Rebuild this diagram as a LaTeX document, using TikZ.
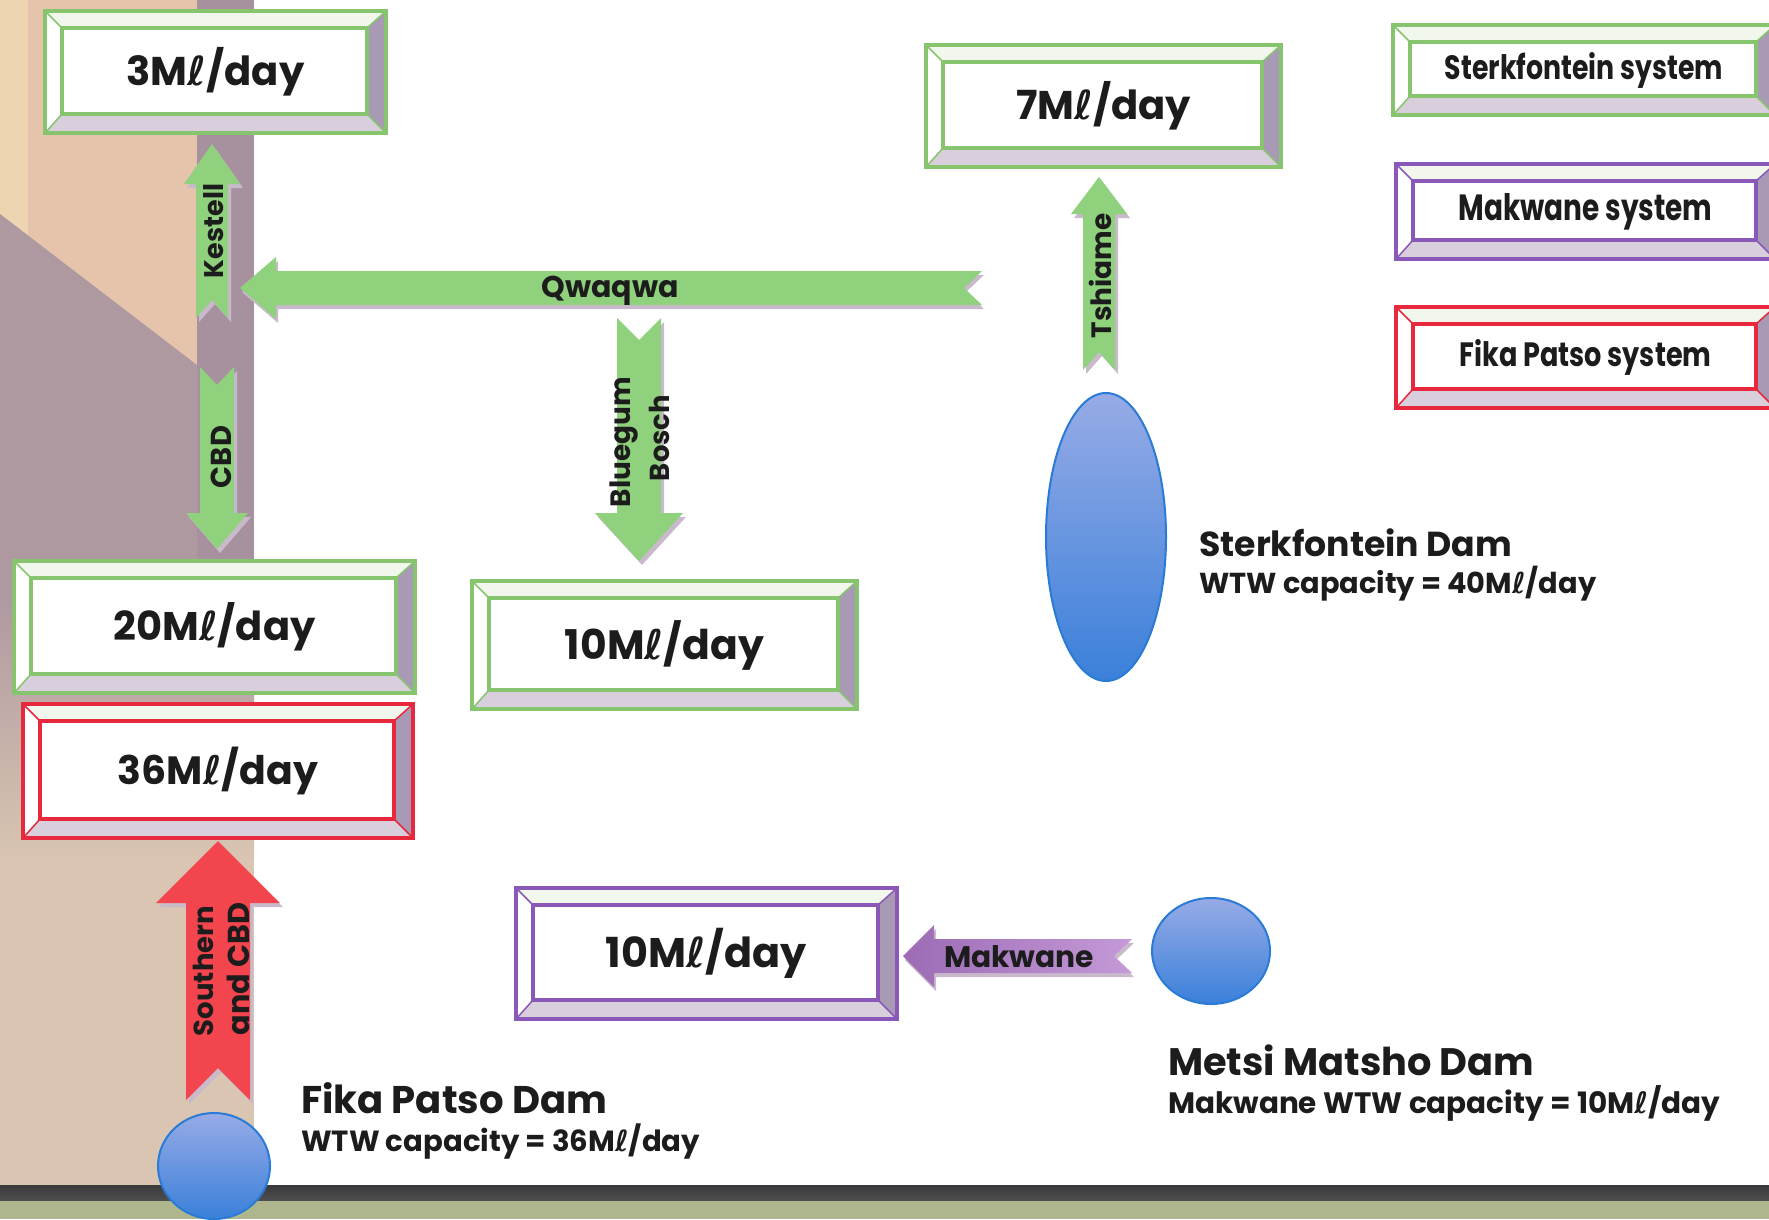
\documentclass[tikz,border=0pt]{standalone}
\usepackage{fontspec}
\setmainfont{Poppins}
\newfontfamily\djv{DejaVu Sans}
\usetikzlibrary{shapes.geometric}
\newcommand\litr{{\djv ℓ}}
\definecolor{gline}{HTML}{86C56E}
\definecolor{rline}{HTML}{E8283C}
\definecolor{pline}{HTML}{8A58B8}
\definecolor{garrow}{HTML}{8FD17C}
\definecolor{rarrow}{HTML}{F2454E}
\definecolor{parrow}{HTML}{9C6BB4}
\definecolor{parrowL}{HTML}{C49AD8}
\definecolor{bevR}{HTML}{A89AB4}
\definecolor{bevB}{HTML}{D8CEDC}
\definecolor{bevT}{HTML}{F2F7EE}
\definecolor{txt}{HTML}{1C1C1C}
\definecolor{peach}{HTML}{E6C4AC}
\definecolor{peachL}{HTML}{EDD5B2}
\definecolor{mauve}{HTML}{A8919E}
\definecolor{tanc}{HTML}{D9C5B1}
\definecolor{bandc}{HTML}{3A3A3C}
\definecolor{olive}{HTML}{AEB68E}
\definecolor{blueT}{HTML}{97ABE6}
\definecolor{blueB}{HTML}{3A80DA}
\definecolor{blueL}{HTML}{2A7BD6}
\definecolor{shad}{HTML}{C9BACB}
\tikzset{
  lbl/.style={text=txt, inner sep=0pt, font=\bfseries},
  dam/.style={ellipse, draw=blueL, line width=2pt, top color=blueT, bottom color=blueB},
}
% bevelled box: name, x1, y1, x2, y2, colour, text
\newcommand\bevbox[7]{%
  \pgfmathsetmacro\xc{#2+17}\pgfmathsetmacro\yc{#3+17}%
  \pgfmathsetmacro\xd{#4-19}\pgfmathsetmacro\yd{#5-19}%
  \fill[white] (#2,#3) rectangle (#4,#5);
  \fill[bevT] (#2,#3)--(#4,#3)--(\xd,\yc)--(\xc,\yc)--cycle;
  \fill[white] (#2,#3)--(\xc,\yc)--(\xc,\yd)--(#2,#5)--cycle;
  \fill[bevR] (#4,#3)--(#4,#5)--(\xd,\yd)--(\xd,\yc)--cycle;
  \fill[bevB] (#2,#5)--(#4,#5)--(\xd,\yd)--(\xc,\yd)--cycle;
  \draw[#6, line width=1.5pt] (#2,#3)--(\xc,\yc) (#4,#3)--(\xd,\yc) (#2,#5)--(\xc,\yd) (#4,#5)--(\xd,\yd);
  \draw[#6, line width=4pt] (#2,#3) rectangle (#4,#5);
  \draw[#6, line width=3.5pt] (\xc,\yc) rectangle (\xd,\yd);
  \node[lbl] (#1) at ({(#2+#4)/2},{(#3+#5)/2}) {#7};
}
% vertical block arrow: cx, tip, base, tail, notch, half head, half shaft, colour
\newcommand\varrow[8]{%
  \fill[shad] ({#1+3},{#2+4})--({#1+#6+3},{#3+4})--({#1+#7+3},{#3+4})--({#1+#7+3},{#4+4})--({#1+3},{#5+4})--({#1-#7+3},{#4+4})--({#1-#7+3},{#3+4})--({#1-#6+3},{#3+4})--cycle;
  \fill[#8] (#1,#2)--({#1+#6},#3)--({#1+#7},#3)--({#1+#7},#4)--(#1,#5)--({#1-#7},#4)--({#1-#7},#3)--({#1-#6},#3)--cycle;
}
% horizontal block arrow: cy, tip, base, tail, notch, half head, half shaft, fill options
\newcommand\harrow[8]{%
  \fill[shad] ({#2+2},{#1+4})--({#3+2},{#1+#6+4})--({#3+2},{#1+#7+4})--({#4+2},{#1+#7+4})--({#5+2},{#1+4})--({#4+2},{#1-#7+4})--({#3+2},{#1-#7+4})--({#3+2},{#1-#6+4})--cycle;
  \path[#8] (#2,#1)--(#3,{#1+#6})--(#3,{#1+#7})--(#4,{#1+#7})--(#5,#1)--(#4,{#1-#7})--(#3,{#1-#7})--(#3,{#1-#6})--cycle;
}
\begin{document}
\begin{tikzpicture}[x=1pt,y=-1pt]
\useasboundingbox (0,0) rectangle (1769,1219);
\clip (0,0) rectangle (1769,1219);
\fill[white] (0,0) rectangle (1769,1219);
% left background strip
\fill[tanc] (0,0) rectangle (254,1186);
\fill[peach] (0,0)--(197,0)--(197,365)--(0,214)--cycle;
\fill[peachL] (0,0)--(28,0)--(28,235)--(0,214)--cycle;
\fill[mauve] (197,0) rectangle (254,560);
\fill[mauve!85!tanc] (0,214)--(197,365)--(197,600)--(0,600)--cycle;
\shade[top color=mauve!85!tanc, bottom color=tanc] (0,599) rectangle (197,860);
\shade[top color=mauve, bottom color=tanc] (197,559) rectangle (254,860);
% bottom band
\shade[top color=bandc, bottom color=bandc!70!gray] (0,1185) rectangle (1769,1201);
\fill[olive] (0,1201) rectangle (1769,1219);
% boxes
\bevbox{b3}{45}{11}{386}{133}{gline}{\resizebox{178pt}{!}{3M\litr/day}}
\bevbox{b7}{926}{45}{1281}{167}{gline}{\resizebox{175pt}{!}{7M\litr/day}}
\bevbox{b20}{14}{561}{415}{693}{gline}{\resizebox{202pt}{!}{20M\litr/day}}
\bevbox{b10g}{472}{581}{857}{709}{gline}{\resizebox{199pt}{!}{10M\litr/day}}
\bevbox{b36}{23}{704}{413}{838}{rline}{\resizebox{200pt}{!}{36M\litr/day}}
\bevbox{b10p}{516}{888}{897}{1019}{pline}{\resizebox{201pt}{!}{10M\litr/day}}
% legend
\bevbox{legS}{1393}{25}{1775}{115}{gline}{\resizebox{278pt}{27pt}{Sterkfontein system}}
\bevbox{legM}{1396}{164}{1775}{259}{pline}{\resizebox{254pt}{27pt}{Makwane system}}
\bevbox{legF}{1396}{307}{1775}{408}{rline}{\resizebox{252pt}{27pt}{Fika Patso system}}
% arrows
\varrow{212}{144}{184}{318}{300}{28}{16}{garrow}
\varrow{217}{549}{513}{367}{385}{31}{17}{garrow}
\harrow{288}{240}{276}{982}{964}{31}{17}{fill=garrow}
\varrow{639}{561}{513}{318}{340}{44}{22}{garrow}
\varrow{1099}{177}{214}{370}{352}{28}{16}{garrow}
\varrow{218}{841}{903}{1100}{1068}{62}{32}{rarrow}
\harrow{956}{903}{934}{1132}{1114}{31}{17}{left color=parrow, right color=parrowL}
% arrow labels
\node[lbl, rotate=90] (lk) at (214,231) {\resizebox{94pt}{!}{Kestell}};
\node[lbl, rotate=90] (lc) at (221,457) {\resizebox{62pt}{!}{CBD}};
\node[lbl] (lq) at (610,291) {\resizebox{137pt}{!}{Qwaqwa}};
\node[lbl, rotate=90] (lb1) at (624,442) {\resizebox{130pt}{!}{Bluegum}};
\node[lbl, rotate=90] (lb2) at (659,438) {\resizebox{86pt}{!}{Bosch}};
\node[lbl, rotate=90] (lt) at (1100,276) {\resizebox{125pt}{!}{Tshiame}};
\node[lbl, rotate=90] (ls1) at (203,971) {\resizebox{130pt}{!}{Southern}};
\node[lbl, rotate=90] (ls2) at (238,969) {\resizebox{133pt}{!}{and CBD}};
\node[lbl] (lm) at (1019,957) {\resizebox{150pt}{!}{Makwane}};
% dams
\node[dam, minimum width=120pt, minimum height=288pt] (sdam) at (1106,537) {};
\node[dam, minimum width=112pt, minimum height=106pt] (fdam) at (214,1166) {};
\node[dam, minimum width=118pt, minimum height=106pt] (mdam) at (1211,951) {};
% dam texts
\node[lbl, anchor=west] (sdn) at (1199,543) {\resizebox{313pt}{!}{Sterkfontein Dam}};
\node[lbl, anchor=west] (sdc) at (1199,584) {\resizebox{397pt}{!}{WTW capacity = 40M\litr/day}};
\node[lbl, anchor=west] (fdn) at (301,1098) {\resizebox{306pt}{!}{Fika Patso Dam}};
\node[lbl, anchor=west] (fdc) at (301,1142) {\resizebox{399pt}{!}{WTW capacity = 36M\litr/day}};
\node[lbl, anchor=west] (mdn) at (1168,1060) {\resizebox{366pt}{!}{Metsi Matsho Dam}};
\node[lbl, anchor=west] (mdc) at (1168,1103) {\resizebox{552pt}{!}{Makwane WTW capacity = 10M\litr/day}};
\end{tikzpicture}
\end{document}
